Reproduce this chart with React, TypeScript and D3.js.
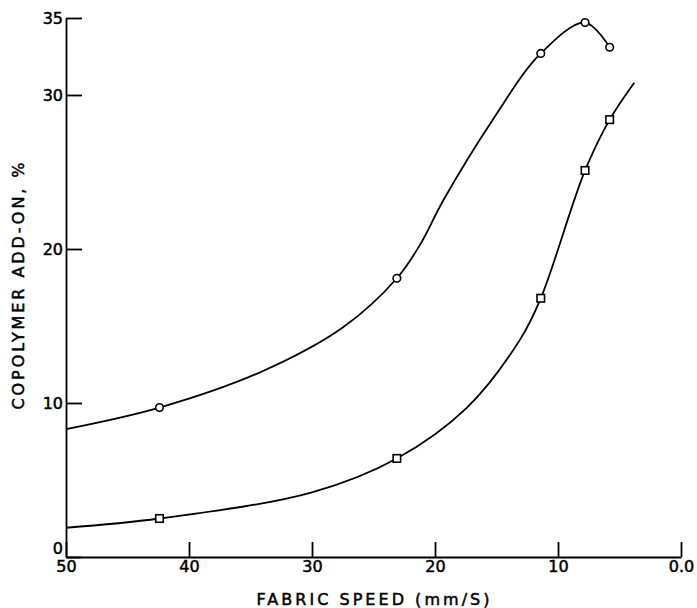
import * as d3 from 'd3';
import { useEffect, useRef } from 'react';

// fabric speed (mm/s) of the measured samples, shared by both series
const speeds = [42.4, 23.1, 11.4, 7.8, 5.8];
// copolymer add-on (%) for the circle series and the square series
const circleAddOn = [9.7, 18.1, 32.7, 34.7, 33.1];
const squareAddOn = [2.5, 6.4, 16.8, 25.1, 28.4];

// hand drawn fitted curves as [speed, add-on]
const circleCurve = [
    [50, 8.3], [42.4, 9.7], [34.2, 12.0], [27.5, 14.9], [23.1, 18.1],
    [21.2, 20.3], [19.3, 23.2], [15.3, 28.4], [11.4, 32.7], [7.8, 34.7],
    [5.8, 33.1],
];
const squareCurve = [
    [50, 1.9], [42.4, 2.5], [30.0, 4.2], [23.1, 6.4], [17.4, 9.7],
    [13.1, 14.1], [11.4, 16.8], [7.8, 25.1], [5.8, 28.4], [3.8, 30.8],
];

const xTicks = [50, 40, 30, 20, 10, 0];
const yTicks = [0, 10, 20, 30, 35];

const xTitle = 'FABRIC SPEED (mm/S)';
const yTitle = 'COPOLYMER ADD-ON, %';

function App() {
    return <AddOnChart />;
}

const AddOnChart = () => {
    const svgRef = useRef<SVGSVGElement>(null);

    useEffect(() => {
        const w = 697;
        const h = 608;
        const font = "'DejaVu Sans', sans-serif";

        const svg = d3.select(svgRef.current);
        svg.selectAll('*').remove();
        svg.attr('width', w).attr('height', h);

        const x = d3.scaleLinear().domain([50, 0]).range([66, 681]);
        const y = d3.scaleLinear().domain([0, 35]).range([557, 18]);

        const xAxis = d3
            .axisBottom(x)
            .tickValues(xTicks)
            .tickSizeInner(-15)
            .tickSizeOuter(0)
            .tickPadding(4)
            .tickFormat((d) => (d === 0 ? '0.0' : String(d)));
        const gx = svg
            .append('g')
            .attr('transform', `translate(0, ${y(0)})`)
            .call(xAxis);

        const yAxis = d3
            .axisLeft(y)
            .tickValues(yTicks)
            .tickSizeInner(-16)
            .tickSizeOuter(0)
            .tickPadding(3)
            .tickFormat((d) => String(d));
        const gy = svg
            .append('g')
            .attr('transform', `translate(${x(50)}, 0)`)
            .call(yAxis);

        [gx, gy].forEach((g) => {
            g.selectAll('path').attr('stroke', '#000').attr('stroke-width', 1.8);
            g.selectAll('line').attr('stroke', '#000').attr('stroke-width', 1.8);
            g.selectAll('text')
                .attr('fill', '#000')
                .attr('stroke', '#000')
                .attr('stroke-width', 0.5)
                .style('font-family', font)
                .style('font-size', '16px');
        });
        // the zero label sits above the baseline rather than centred on it
        gy.selectAll('text')
            .filter((d) => d === 0)
            .attr('dy', '-0.25em');

        const line = d3
            .line<number[]>()
            .x((d) => x(d[0]))
            .y((d) => y(d[1]))
            .curve(d3.curveCatmullRom.alpha(0.5));

        [circleCurve, squareCurve].forEach((c) => {
            svg.append('path')
                .attr('d', line(c))
                .attr('fill', 'none')
                .attr('stroke', '#000')
                .attr('stroke-width', 1.8);
        });

        svg.selectAll('circle.pt')
            .data(speeds.map((s, i) => [s, circleAddOn[i]]))
            .enter()
            .append('circle')
            .attr('class', 'pt')
            .attr('cx', (d) => x(d[0]))
            .attr('cy', (d) => y(d[1]))
            .attr('r', 3.8)
            .attr('fill', '#fff')
            .attr('stroke', '#000')
            .attr('stroke-width', 1.6);

        const sq = 7.5;
        svg.selectAll('rect.pt')
            .data(speeds.map((s, i) => [s, squareAddOn[i]]))
            .enter()
            .append('rect')
            .attr('class', 'pt')
            .attr('x', (d) => x(d[0]) - sq / 2)
            .attr('y', (d) => y(d[1]) - sq / 2)
            .attr('width', sq)
            .attr('height', sq)
            .attr('fill', '#fff')
            .attr('stroke', '#000')
            .attr('stroke-width', 1.6);

        svg.append('text')
            .attr('x', 373)
            .attr('y', 605)
            .attr('text-anchor', 'middle')
            .attr('textLength', 233)
            .attr('lengthAdjust', 'spacing')
            .attr('stroke', '#000')
            .attr('stroke-width', 0.5)
            .style('font-family', font)
            .style('font-size', '16px')
            .text(xTitle);

        svg.append('text')
            .attr('transform', 'translate(24, 286) rotate(-90)')
            .attr('text-anchor', 'middle')
            .attr('textLength', 247)
            .attr('lengthAdjust', 'spacing')
            .attr('stroke', '#000')
            .attr('stroke-width', 0.5)
            .style('font-family', font)
            .style('font-size', '16px')
            .text(yTitle);
    }, []);

    return (
        <div style={{ position: 'absolute', left: 0, top: 0 }}>
            <svg ref={svgRef} style={{ display: 'block', background: '#fff' }}></svg>
        </div>
    );
};

export default App;
